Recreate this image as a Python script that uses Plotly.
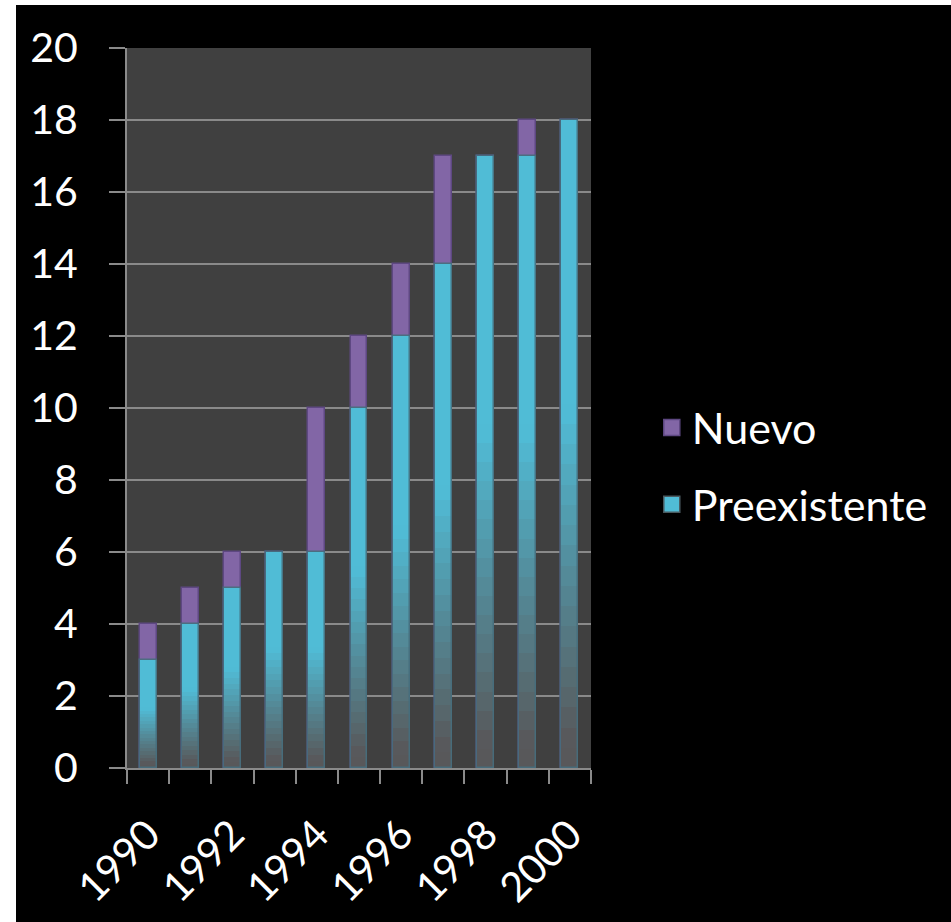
import plotly.graph_objects as go

years = [1990, 1991, 1992, 1993, 1994, 1995, 1996, 1997, 1998, 1999, 2000]
preexistente = [3, 4, 5, 6, 6, 10, 12, 14, 17, 17, 18]
nuevo = [1, 1, 1, 0, 4, 2, 2, 3, 0, 1, 0]
x_tick_labels = ["1990", "1992", "1994", "1996", "1998", "2000"]
x_tick_vals = [1990, 1992, 1994, 1996, 1998, 2000]

W, H = 951, 922
L, R, T, B = 127, 360, 48, 154
PW, PH = W - L - R, H - T - B

FONT = "Lato"
TICK_SIZE = 41
LEG_SIZE = 43
CYAN = (80, 188, 214)
GRAY = (88, 88, 90)
PURPLE = "#8266A6"
BAR_W = 0.4

totals = [p + n for p, n in zip(preexistente, nuevo)]

fig = go.Figure()

# Nuevo drawn as the top segment (overlay: full total height, covered below by Preexistente)
fig.add_trace(go.Bar(
    x=years, y=totals, name="Nuevo", width=BAR_W, showlegend=False,
    marker=dict(color=PURPLE, line=dict(color="#5E4882", width=1.5)),
    customdata=nuevo, hovertemplate="%{x}: %{customdata}<extra>Nuevo</extra>",
))


def grad(t):
    lo, hi = 0.04, 0.55
    u = min(max((t - lo) / (hi - lo), 0.0), 1.0)
    c = [round(g + (cc - g) * u) for g, cc in zip(GRAY, CYAN)]
    return "rgb(%d,%d,%d)" % tuple(c)


N = 32
fracs = [1.0 - k / N for k in range(N)]
for k, f in enumerate(fracs):
    nxt = fracs[k + 1] if k + 1 < N else 0.0
    fig.add_trace(go.Bar(
        x=years, y=[p * f for p in preexistente], width=BAR_W,
        name="Preexistente", showlegend=False,
        marker=dict(color=grad((f + nxt) / 2), line=dict(width=0)),
        hoverinfo="skip" if k > 0 else None,
        customdata=preexistente,
        hovertemplate="%{x}: %{customdata}<extra>Preexistente</extra>" if k == 0 else None,
    ))

# outline on Preexistente segment
fig.add_trace(go.Bar(
    x=years, y=preexistente, width=BAR_W, showlegend=False, hoverinfo="skip",
    marker=dict(color="rgba(0,0,0,0)", line=dict(color="rgba(70,110,125,0.9)", width=1.5)),
))

# legend entries
fig.add_trace(go.Scatter(
    x=[None], y=[None], mode="markers", name="Nuevo", legendgroup="a",
    marker=dict(symbol="square", size=26, color=PURPLE, line=dict(color="#5E4882", width=1.5)),
))
fig.add_trace(go.Scatter(
    x=[None], y=[None], mode="markers", name="Preexistente", legendgroup="b",
    marker=dict(symbol="square", size=26, color="rgb(%d,%d,%d)" % CYAN,
                line=dict(color="#4a5a60", width=1.5)),
))


def px_x(px):
    return (px - L) / PW


def px_y(py):
    return (H - B - py) / PH


fig.update_layout(
    width=W, height=H,
    margin=dict(l=L, r=R, t=T, b=B, pad=0),
    barmode="overlay",
    paper_bgcolor="black",
    plot_bgcolor="#404040",
    font=dict(family=FONT, color="white", size=TICK_SIZE),
    showlegend=True,
    legend=dict(
        x=1.131, y=px_y(466), xanchor="left", yanchor="middle",
        font=dict(family=FONT, size=LEG_SIZE, color="white"),
        bgcolor="rgba(0,0,0,0)", traceorder="grouped", tracegroupgap=18,
        itemsizing="trace",
    ),
    bargap=0,
    shapes=[
        dict(type="rect", xref="paper", yref="paper",
             x0=px_x(0), x1=px_x(16), y0=px_y(H), y1=px_y(0),
             fillcolor="white", line=dict(width=0), layer="above"),
        dict(type="rect", xref="paper", yref="paper",
             x0=px_x(0), x1=px_x(W), y0=px_y(5), y1=px_y(0),
             fillcolor="white", line=dict(width=0), layer="above"),
    ],
)

fig.update_yaxes(
    range=[0, 20], dtick=2, tick0=0,
    showgrid=True, gridcolor="#8a8a8a", gridwidth=2,
    zeroline=False,
    showline=True, linecolor="#8a8a8a", linewidth=2,
    ticks="outside", ticklen=16, tickwidth=2, tickcolor="#8a8a8a",
    ticklabelstandoff=23,
    tickfont=dict(family=FONT, size=TICK_SIZE, color="white"),
)

fig.update_xaxes(
    range=[1989.5, 2000.5],
    tickmode="array", tickvals=x_tick_vals, ticktext=x_tick_labels,
    tickangle=-45, ticks="",
    showgrid=False, zeroline=False,
    showline=True, linecolor="#8a8a8a", linewidth=2,
    minor=dict(ticks="outside", ticklen=14, tickwidth=2, tickcolor="#8a8a8a",
               tick0=1989.5, dtick=1, showgrid=False),
    ticklabelstandoff=24,
    tickfont=dict(family=FONT, size=TICK_SIZE, color="white"),
)

fig.write_html("out.html")
